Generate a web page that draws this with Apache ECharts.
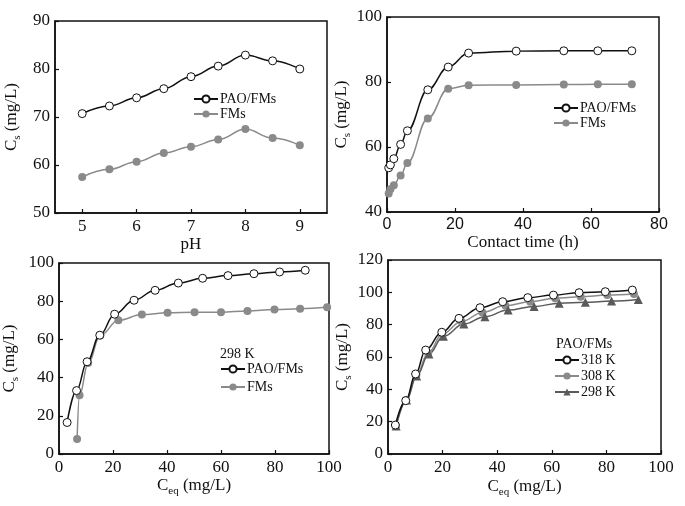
<!DOCTYPE html>
<html><head><meta charset="utf-8">
<script src="https://cdn.jsdelivr.net/npm/echarts@6/dist/echarts.min.js"></script>
<style>html,body{margin:0;padding:0;background:#fff}#c{width:685px;height:506px}</style>
</head><body><div id="c"></div>
<script>
// Panel (a): effect of pH
const phX = [5,5.5,6,6.5,7,7.5,8,8.5,9];
const phPAO = [70.7,72.3,74.0,75.9,78.4,80.6,82.9,81.7,80.0];
const phFMs = [57.5,59.1,60.7,62.5,63.8,65.3,67.5,65.6,64.1];
const phTicks = [5,6,7,8,9];
// Panel (b): contact time
const timeX = [0.5,1,2,4,6,12,18,24,38,52,62,72];
const timePAO = [53.6,54.5,56.4,60.8,65.0,77.6,84.6,88.9,89.5,89.6,89.6,89.6];
const timeFMs = [45.7,47.0,48.2,51.2,55.1,68.8,77.9,79.0,79.1,79.2,79.3,79.3];
// Panel (c): isotherms 298 K
const ceqPAO = [3.0,6.5,10.4,15.1,20.6,27.8,35.6,44.2,53.2,62.6,72.2,81.7,91.2];
const csPAO = [16.5,33.2,48.3,62.2,73.2,80.5,85.7,89.5,92.0,93.4,94.4,95.3,96.2];
const ceqFMs = [6.7,7.6,10.8,15.3,22.0,30.7,40.2,50.2,60.0,69.8,79.8,89.3,99.3];
const csFMs = [7.8,30.8,47.7,62.0,70.0,73.0,73.9,74.2,74.2,74.9,75.6,76.1,76.8];
// Panel (d): PAO/FMs at three temperatures
const ceq318 = [2.7,6.5,10.1,13.8,19.7,26.0,33.7,42.0,51.2,60.6,70.0,79.6,89.5];
const cs318 = [17.9,33.0,49.5,64.3,75.3,83.9,90.5,94.2,96.7,98.3,99.8,100.4,101.4];
const ceq308 = [2.9,6.6,10.4,14.7,19.9,26.9,34.6,43.0,52.1,61.2,70.6,80.3,90.1];
const cs308 = [17.5,33.2,48.9,62.5,74.2,81.9,87.6,91.8,94.2,96.3,97.3,98.3,98.9];
const ceq298 = [3.0,6.8,10.5,15.0,20.3,27.8,35.5,44.0,53.5,62.7,72.3,81.9,91.7];
const cs298 = [17.3,33.4,48.2,61.8,72.8,80.4,84.9,89.0,91.3,93.2,93.8,94.6,95.6];

const pairs = (xs, ys) => xs.map((x, i) => [x, ys[i]]);
const SERIF = '"Liberation Serif", "DejaVu Serif", serif';
const SANS = '"Liberation Sans", Arial, sans-serif';
const INK = '#111';
const GRAY = '#8a8a8a';
const DARK = '#5a5a5a';

const richY = {
  a: {fontFamily: SERIF, fontSize: 17, color: INK, lineHeight: 18},
  s: {fontFamily: SERIF, fontSize: 11, color: INK, padding: [12,0,0,0]}
};
const yName = '{a|C}{s|s}{a| (mg/L)}';
const xNameEq = '{a|C}{s|eq}{a| (mg/L)}';

function xAxis(g, min, max, interval, name, gap, extra) {
  return Object.assign({
    type: 'value', gridIndex: g, min, max, interval,
    name, nameLocation: 'middle', nameGap: gap,
    nameTextStyle: {fontFamily: SERIF, fontSize: 17, color: INK, rich: richY},
    axisLine: {show: true, onZero: false, lineStyle: {color: INK, width: 1.5}},
    axisTick: {show: true, inside: true, length: 4, lineStyle: {color: INK, width: 1.2}},
    axisLabel: {fontFamily: SERIF, fontSize: 17, color: INK, margin: 5},
    splitLine: {show: false}
  }, extra || {});
}
function yAxis(g, min, max, interval, gap) {
  return {
    type: 'value', gridIndex: g, min, max, interval,
    name: yName, nameLocation: 'middle', nameGap: gap, nameRotate: 90,
    nameTextStyle: {rich: richY},
    axisLine: {show: true, onZero: false, lineStyle: {color: INK, width: 1.5}},
    axisTick: {show: true, inside: true, length: 4, lineStyle: {color: INK, width: 1.2}},
    axisLabel: {fontFamily: SERIF, fontSize: 17, color: INK, margin: 5},
    splitLine: {show: false}
  };
}
function line(name, g, data, kind) {
  const s = {
    name, type: 'line', xAxisIndex: g, yAxisIndex: g, data,
    smooth: 0.4, smoothMonotone: 'x', symbolSize: 8, animation: false,
    z: kind === 'open' ? 5 : 3
  };
  if (kind === 'open') {
    s.symbol = 'circle';
    s.lineStyle = {color: INK, width: 1.5};
    s.itemStyle = {color: '#fff', borderColor: INK, borderWidth: 1};
  } else if (kind === 'gray') {
    s.symbol = 'circle';
    s.lineStyle = {color: GRAY, width: 1.5};
    s.itemStyle = {color: GRAY, borderColor: GRAY, borderWidth: 0};
  } else {
    s.symbol = 'triangle';
    s.symbolSize = 9;
    s.lineStyle = {color: DARK, width: 1.5};
    s.itemStyle = {color: DARK, borderColor: DARK, borderWidth: 0};
  }
  return s;
}
function legend(names, left, top, gap) {
  return {
    data: names, orient: 'vertical', left, top,
    itemWidth: 24, itemHeight: 9, itemGap: gap, padding: 0,
    textStyle: {fontFamily: SERIF, fontSize: 14, color: INK, padding: [0,0,0,-3]},
    selectedMode: false
  };
}

const gridStyle = {show: true, borderColor: INK, borderWidth: 1.5, containLabel: false};
const option = {
  backgroundColor: '#fff',
  animation: false,
  grid: [
    Object.assign({left: 55, top: 21, width: 272, height: 192}, gridStyle),
    Object.assign({left: 387, top: 17, width: 272, height: 195}, gridStyle),
    Object.assign({left: 56, top: 263, width: 273, height: 191}, gridStyle),
    Object.assign({left: 388, top: 260, width: 273, height: 194}, gridStyle)
  ],
  xAxis: [
    xAxis(0, 4.5, 9.5, null, 'pH', 20, {
      axisTick: {show: true, inside: true, length: 4, customValues: phTicks, lineStyle: {color: INK, width: 1.2}},
      axisLabel: {fontFamily: SERIF, fontSize: 17, color: INK, margin: 5, customValues: phTicks}
    }),
    xAxis(1, 0, 80, 20, 'Contact time (h)', 21, {
      axisLabel: {fontFamily: SANS, fontSize: 16, color: INK, margin: 5}
    }),
    xAxis(2, 0, 100, 20, xNameEq, 14),
    xAxis(3, 0, 100, 20, xNameEq, 21)
  ],
  yAxis: [
    yAxis(0, 50, 90, 10, 32),
    yAxis(1, 40, 100, 20, 24),
    yAxis(2, 0, 100, 20, 38),
    yAxis(3, 0, 120, 20, 30)
  ],
  legend: [
    legend(['PAO/FMs', 'FMs'], 193, 92, 1),
    legend(['PAO/FMs ', 'FMs '], 553, 101, 1),
    legend(['PAO/FMs  ', 'FMs  '], 220, 362, 4),
    legend(['318 K', '308 K', '298 K'], 554, 353, 2)
  ],
  title: [
    {text: '298 K', left: 220, top: 347, padding: 0,
     textStyle: {fontFamily: SERIF, fontSize: 14, fontWeight: 'normal', color: INK}},
    {text: 'PAO/FMs', left: 556, top: 337, padding: 0,
     textStyle: {fontFamily: SERIF, fontSize: 14, fontWeight: 'normal', color: INK}}
  ],
  series: [
    line('PAO/FMs', 0, pairs(phX, phPAO), 'open'),
    line('FMs', 0, pairs(phX, phFMs), 'gray'),
    line('PAO/FMs ', 1, pairs(timeX, timePAO), 'open'),
    line('FMs ', 1, pairs(timeX, timeFMs), 'gray'),
    line('PAO/FMs  ', 2, pairs(ceqPAO, csPAO), 'open'),
    line('FMs  ', 2, pairs(ceqFMs, csFMs), 'gray'),
    line('318 K', 3, pairs(ceq318, cs318), 'open'),
    line('308 K', 3, pairs(ceq308, cs308), 'gray'),
    line('298 K', 3, pairs(ceq298, cs298), 'tri')
  ]
};
const chart = echarts.init(document.getElementById('c'), null, {renderer: 'canvas'});
chart.setOption(option);
</script></body></html>
